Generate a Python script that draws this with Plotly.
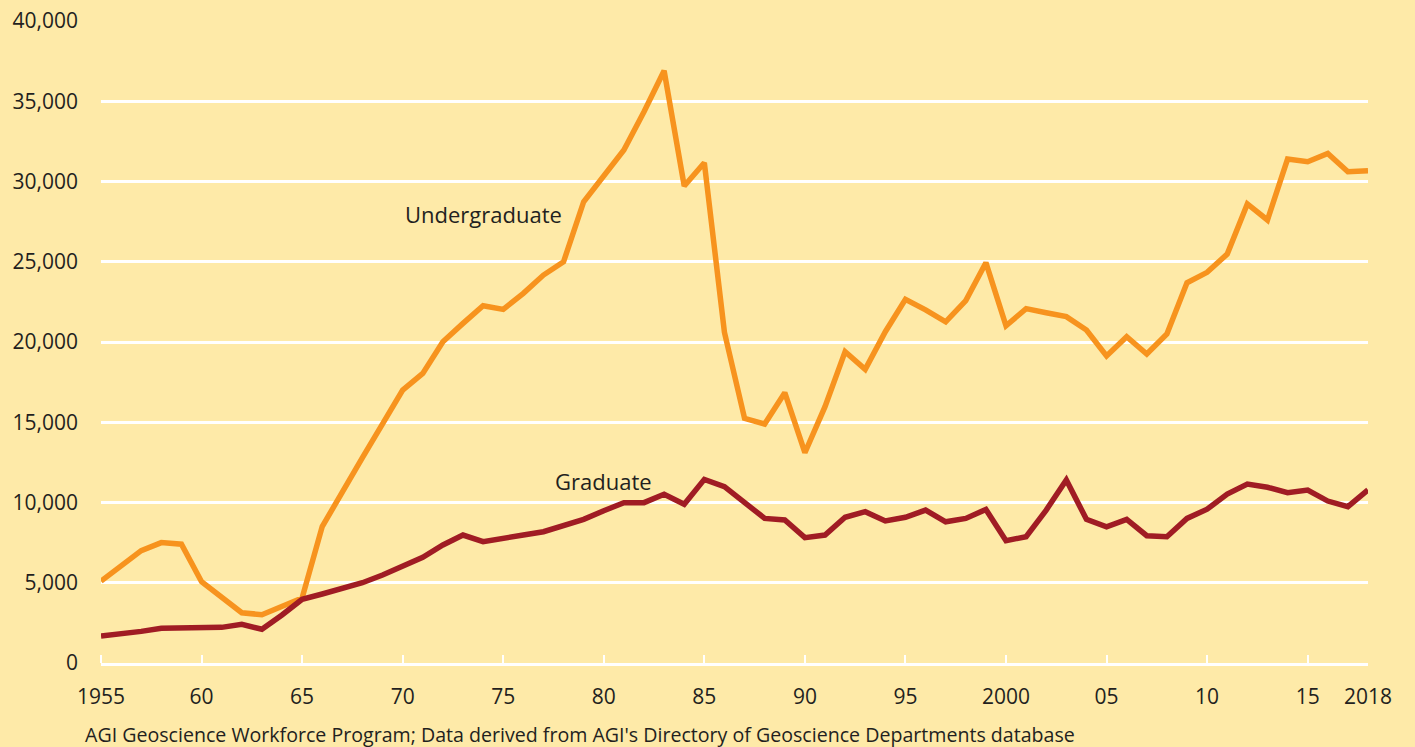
import plotly.graph_objects as go

# Geoscience enrollments, 1955-2018
years = list(range(1955, 2019))

undergraduate = [
    5100, 6000, 7000, 7500, 7400, 5060, 4100, 3130, 3010, 3500,
    4050, 8500, 10700, 12800, 14900, 17000, 18040, 20020, 21160, 22260,
    22030, 23030, 24170, 25000, 28740, 30400, 31960, 34350, 36900, 29720,
    31170, 20600, 15240, 14890, 16840, 13100, 15970, 19400, 18300, 20640,
    22660, 22000, 21260, 22580, 24940, 21010, 22080, 21820, 21580, 20750,
    19130, 20330, 19250, 20500, 23690, 24340, 25480, 28600, 27600, 31400,
    31230, 31750, 30610, 30670,
]

graduate = [
    1680, 1800, 1970, 2160, 2160, 2200, 2220, 2410, 2100, 2990,
    3970, 4300, 4650, 5000, 5480, 6000, 6580, 7350, 7970, 7560,
    7730, 7970, 8180, 8550, 8950, 9490, 9990, 9990, 10510, 9890,
    11440, 10990, 9990, 9010, 8910, 7810, 7970, 9080, 9430, 8850,
    9080, 9530, 8800, 9010, 9570, 7620, 7870, 9530, 11400, 8950,
    8490, 8950, 7930, 7870, 9010, 9580, 10530, 11150, 10950, 10610,
    10780, 10090, 9740, 10780,
]

x_tick_vals = [1955, 1960, 1965, 1970, 1975, 1980, 1985, 1990, 1995,
               2000, 2005, 2010, 2015, 2018]
x_tick_text = ["1955", "60", "65", "70", "75", "80", "85", "90", "95",
               "2000", "05", "10", "15", "2018"]
y_tick_vals = [0, 5000, 10000, 15000, 20000, 25000, 30000, 35000, 40000]

BG = "#FEEAA8"
TEXT = "#231F20"
FONT = "Open Sans"

fig = go.Figure()
fig.add_trace(go.Scatter(
    x=years, y=undergraduate, mode="lines", name="Undergraduate",
    line=dict(color="#F7931E", width=5.5), showlegend=False,
))
fig.add_trace(go.Scatter(
    x=years, y=graduate, mode="lines", name="Graduate",
    line=dict(color="#A01C24", width=5.5), showlegend=False,
))

fig.add_annotation(x=1970.02, y=27970, text="Undergraduate", showarrow=False,
                   xanchor="left", yanchor="middle",
                   font=dict(family=FONT, size=22, color=TEXT))
fig.add_annotation(x=1977.48, y=11340, text="Graduate", showarrow=False,
                   xanchor="left", yanchor="middle",
                   font=dict(family=FONT, size=22, color=TEXT))
fig.add_annotation(x=-0.0142, y=-0.112, xref="paper", yref="paper",
                   text="AGI Geoscience Workforce Program; Data derived from AGI's Directory of Geoscience Departments database",
                   showarrow=False, xanchor="left", yanchor="middle",
                   font=dict(family=FONT, size=19.6, color=TEXT))

fig.update_layout(
    width=1415, height=747,
    margin=dict(l=101, r=47, t=21, b=84, autoexpand=False),
    paper_bgcolor=BG, plot_bgcolor=BG,
    font=dict(family=FONT, size=21, color=TEXT),
    xaxis=dict(
        range=[1955, 2018], tickvals=x_tick_vals, ticktext=x_tick_text,
        showgrid=False, zeroline=False, ticks="", automargin=False,
        showline=True, linecolor="white", linewidth=3,
        ticklabelstandoff=13,
        minor=dict(tickvals=x_tick_vals[:-1], ticks="inside", ticklen=8,
                   tickwidth=2, tickcolor="white", showgrid=False),
    ),
    yaxis=dict(
        range=[0, 40000], tickvals=y_tick_vals, tickformat=",",
        showgrid=True, gridcolor="white", gridwidth=3, automargin=False,
        zeroline=False, ticks="", ticklabelstandoff=22,
    ),
)

fig.write_html("out.html")
